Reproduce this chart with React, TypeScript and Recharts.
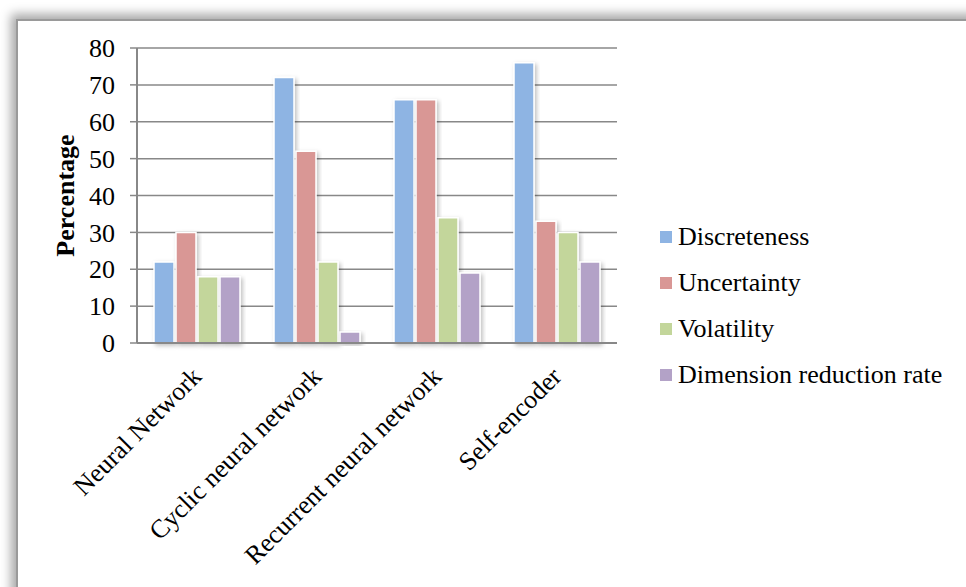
import { Bar, BarChart, CartesianGrid, XAxis, YAxis } from "recharts";

const categories = ["Neural Network", "Cyclic neural network", "Recurrent neural network", "Self-encoder"];
const discreteness = [22, 72, 66, 76];
const uncertainty = [30, 52, 66, 33];
const volatility = [18, 22, 34, 30];
const dimensionReduction = [18, 3, 19, 22];
const yTicks = [0, 10, 20, 30, 40, 50, 60, 70, 80];

const series = [
  { key: "discreteness", name: "Discreteness", color: "#8EB4E3" },
  { key: "uncertainty", name: "Uncertainty", color: "#D99795" },
  { key: "volatility", name: "Volatility", color: "#C3D69B" },
  { key: "dimension", name: "Dimension reduction rate", color: "#B3A2C7" }
];

const data = categories.map((name, i) => ({
  name,
  discreteness: discreteness[i],
  uncertainty: uncertainty[i],
  volatility: volatility[i],
  dimension: dimensionReduction[i]
}));

const font = '"Liberation Serif", "Times New Roman", serif';

function RotatedTick(props: any) {
  const { x, y, payload } = props;
  const px = x + 6;
  const py = y + 27;
  return (
    <text
      x={px}
      y={py}
      transform={`rotate(-45 ${px} ${py})`}
      textAnchor="end"
      fontFamily={font}
      fontSize={26}
      fill="#000"
    >
      {payload.value}
    </text>
  );
}

export default function App() {
  return (
    <div style={{ position: "fixed", left: 0, top: 0, width: 966, height: 587, overflow: "hidden", background: "#fff" }}>
      <div
        style={{
          position: "absolute",
          left: 16,
          top: 19,
          width: 1000,
          height: 620,
          borderLeft: "2px solid #9a9a9a",
          borderTop: "2px solid #9a9a9a",
          boxShadow: "-5px -5px 10px rgba(0,0,0,0.35)",
          background: "#fff"
        }}
      />
      <div style={{ position: "absolute", left: 0, top: 0 }}>
        <BarChart
          width={966}
          height={587}
          data={data}
          margin={{ top: 48, right: 349, bottom: 44, left: 37 }}
          barSize={20}
          barGap={2}
        >
          <defs>
            <filter id="barShadow" x="-30%" y="-10%" width="160%" height="130%">
              <feDropShadow dx="2" dy="2" stdDeviation="2" floodColor="#000" floodOpacity="0.25" />
            </filter>
          </defs>
          <CartesianGrid vertical={false} stroke="#888" strokeWidth={1.5} />
          <XAxis
            dataKey="name"
            height={200}
            interval={0}
            tick={<RotatedTick />}
            tickLine={false}
            axisLine={{ stroke: "#888", strokeWidth: 2 }}
          />
          <YAxis
            width={100}
            domain={[0, 80]}
            ticks={yTicks}
            interval={0}
            tickSize={7}
            tickMargin={15}
            tick={{ fontFamily: font, fontSize: 26, fill: "#000" }}
            tickLine={{ stroke: "#888", strokeWidth: 1.5 }}
            axisLine={{ stroke: "#888", strokeWidth: 2 }}
            label={{
              value: "Percentage",
              angle: -90,
              position: "insideLeft",
              offset: 28,
              style: { textAnchor: "middle", fontFamily: font, fontSize: 26, fontWeight: "bold", fill: "#000" }
            }}
          />
          {series.map((s) => (
            <Bar
              key={s.key}
              dataKey={s.key}
              name={s.name}
              fill={s.color}
              stroke="#fff"
              strokeWidth={1.5}
              filter="url(#barShadow)"
              isAnimationActive={false}
            />
          ))}
        </BarChart>
      </div>
      <div style={{ position: "absolute", left: 660, top: 214, fontFamily: font, fontSize: 26, color: "#000" }}>
        {series.map((s) => (
          <div key={s.key} style={{ display: "flex", alignItems: "center", height: 46, whiteSpace: "nowrap" }}>
            <span style={{ width: 12, height: 12, background: s.color, marginRight: 6, display: "inline-block" }} />
            {s.name}
          </div>
        ))}
      </div>
    </div>
  );
}
